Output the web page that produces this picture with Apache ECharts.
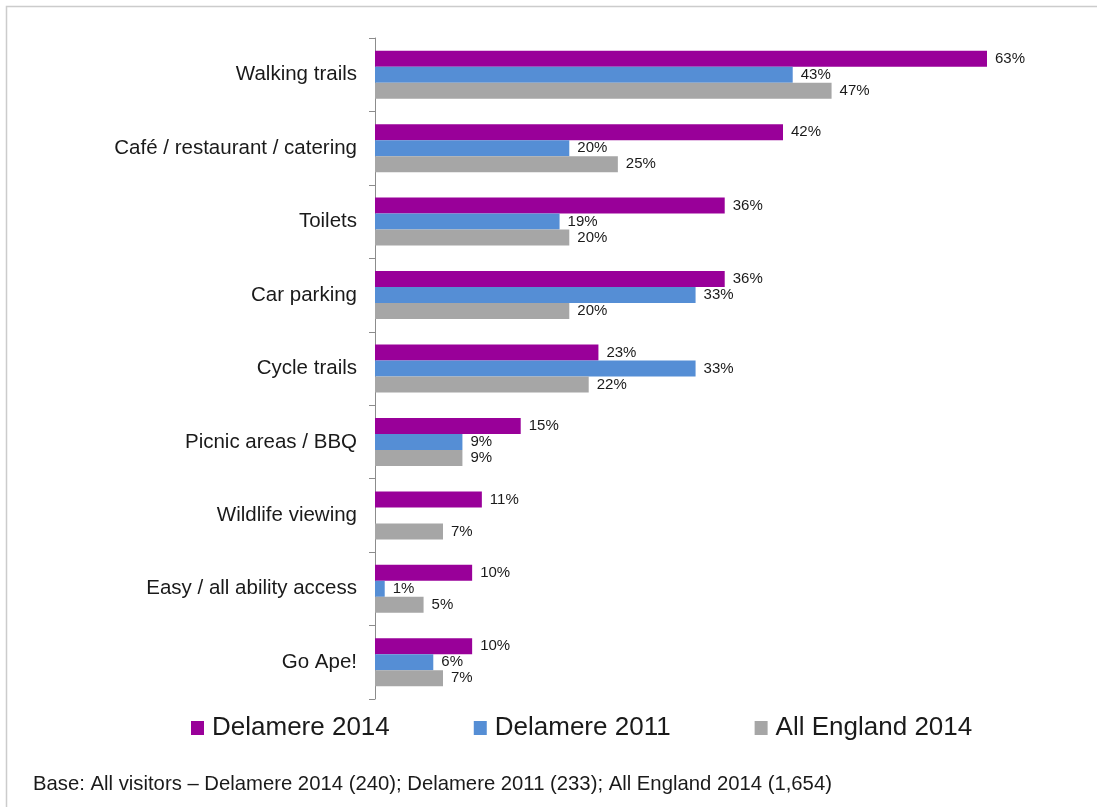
<!DOCTYPE html>
<html>
<head>
<meta charset="utf-8">
<title>Facilities used – Delamere</title>
<script src="https://cdn.jsdelivr.net/npm/echarts@6/dist/echarts.min.js"></script>
<style>
  html, body { margin: 0; padding: 0; background: #ffffff; }
  #chart { width: 1097px; height: 807px; }
</style>
</head>
<body>
<div id="chart"></div>
<script>
// Facilities used on the visit, percentage of visitors
const categories = [
  'Walking trails',
  'Café / restaurant / catering',
  'Toilets',
  'Car parking',
  'Cycle trails',
  'Picnic areas / BBQ',
  'Wildlife viewing',
  'Easy / all ability access',
  'Go Ape!'
];
const seriesNames = ['Delamere 2014', 'Delamere 2011', 'All England 2014'];
const delamere2014 = [63, 42, 36, 36, 23, 15, 11, 10, 10];
const delamere2011 = [43, 20, 19, 33, 33, 9, null, 1, 6];
const allEngland2014 = [47, 25, 20, 20, 22, 9, 7, 5, 7];
const footnote = 'Base: All visitors \u2013 Delamere 2014 (240); Delamere 2011 (233); All England 2014 (1,654)';

const colors = ['#990099', '#558ED5', '#A6A6A6'];
const FONT = '"Liberation Sans", Arial, Helvetica, sans-serif';

const chart = echarts.init(document.getElementById('chart'), null, { renderer: 'canvas' });

function barSeries(name, values, color) {
  return {
    name: name,
    type: 'bar',
    data: values,
    barWidth: 16,
    barGap: '0%',
    itemStyle: { color: color },
    label: {
      show: true,
      position: 'right',
      distance: 8,
      formatter: (p) => p.value == null ? '' : p.value + '%',
      fontFamily: FONT,
      fontSize: 15,
      color: '#1a1a1a'
    },
    emphasis: { disabled: true },
    animation: false
  };
}

chart.setOption({
  backgroundColor: '#ffffff',
  animation: false,
  grid: { left: 375, right: 42, top: 38, bottom: 108, containLabel: false },
  xAxis: {
    type: 'value',
    min: 0,
    max: 70,
    show: false
  },
  yAxis: {
    type: 'category',
    data: categories,
    inverse: true,
    axisLine: { show: true, lineStyle: { color: '#8c8c8c', width: 1 } },
    axisTick: { show: true, length: 6, lineStyle: { color: '#8c8c8c' } },
    axisLabel: {
      margin: 18,
      fontFamily: FONT,
      fontSize: 20.5,
      color: '#1a1a1a'
    },
    splitLine: { show: false }
  },
  legend: {
    data: seriesNames,
    left: 191,
    top: 715,
    padding: 0,
    itemWidth: 13,
    itemHeight: 14,
    itemGap: 84,
    icon: 'rect',
    textStyle: { fontFamily: FONT, fontSize: 26, color: '#1a1a1a', padding: [0, 0, 0, 3] },
    selectedMode: false
  },
  graphic: [
    {
      type: 'rect',
      silent: true,
      shape: { x: 6.5, y: 6.5, width: 1300, height: 1000 },
      style: { fill: 'none', stroke: '#cccccc', lineWidth: 1.5 }
    },
    {
      type: 'text',
      left: 33,
      top: 774,
      silent: true,
      style: {
        text: footnote,
        fontFamily: FONT,
        fontSize: 20.3,
        fill: '#1a1a1a'
      }
    }
  ],
  series: [
    barSeries(seriesNames[0], delamere2014, colors[0]),
    barSeries(seriesNames[1], delamere2011, colors[1]),
    barSeries(seriesNames[2], allEngland2014, colors[2])
  ]
});
</script>
</body>
</html>
